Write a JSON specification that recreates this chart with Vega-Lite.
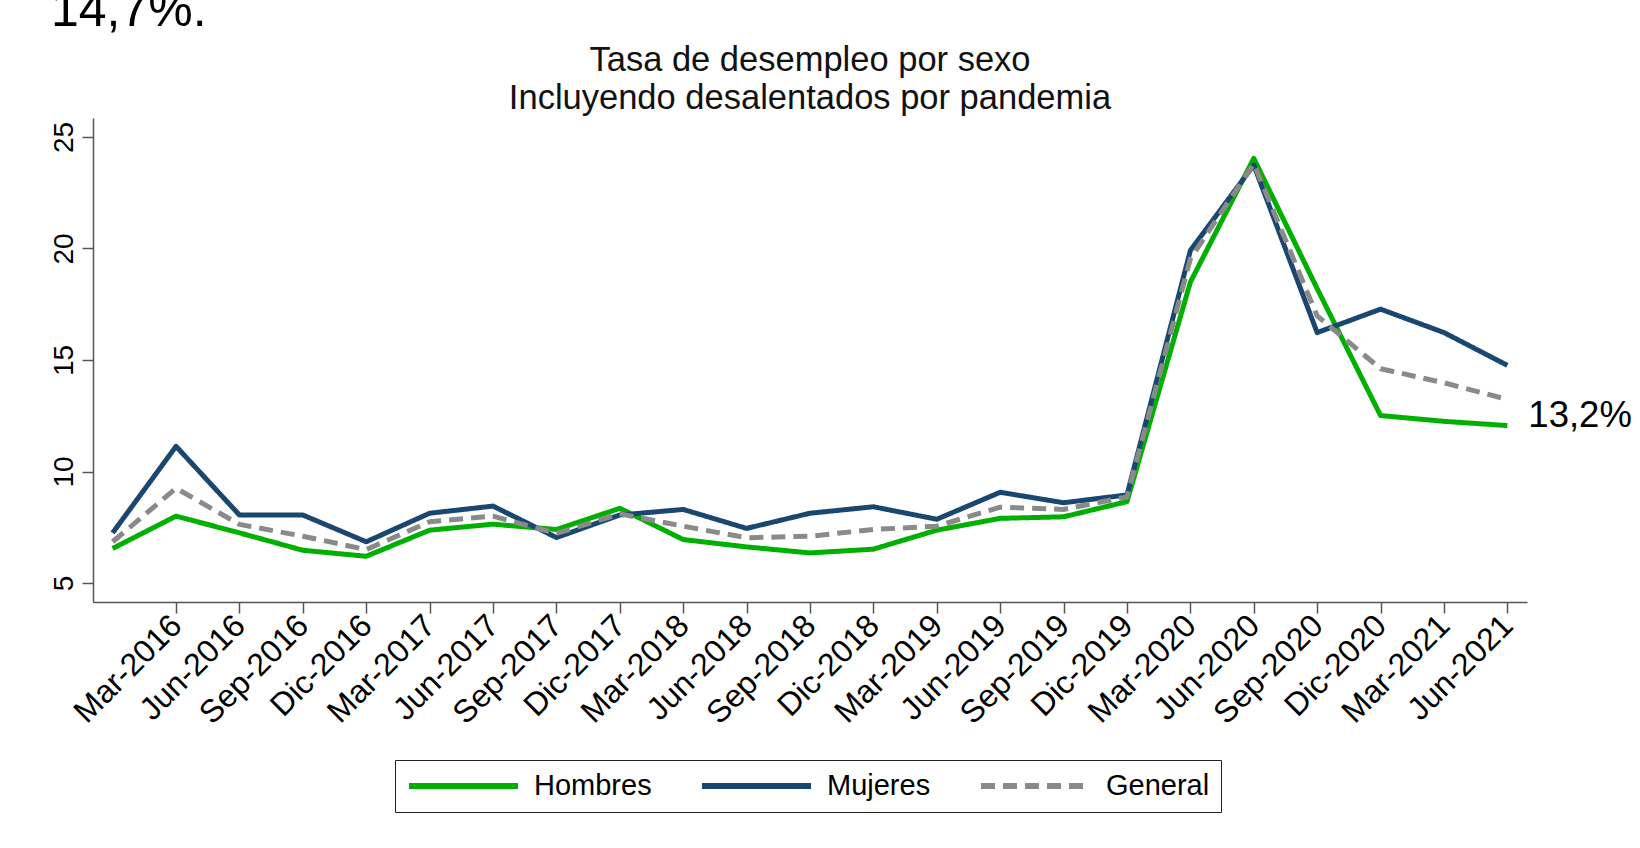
{
  "$schema": "https://vega.github.io/schema/vega-lite/v6.json",
  "autosize": {"type": "none"},
  "padding": {"left": 93, "top": 118, "right": 1547, "bottom": 730},
  "bounds": "flush",
  "background": "white",
  "title": {"text": "14,7%.", "anchor": "start", "frame": "group", "fontSize": 50, "fontWeight": "normal", "font": "Liberation Sans", "color": "#000000", "dx": -42, "offset": 7},
  "config": {
    "view": {"stroke": null},
    "font": "Liberation Sans",
    "axis": {"grid": false, "domainColor": "#555555", "domainWidth": 1.5, "tickColor": "#555555", "tickWidth": 1.5, "tickSize": 11, "labelColor": "#000000", "labelFont": "Liberation Sans", "title": null}
  },
  "datasets": {
    "series": [
      {"periodo": "Dic-2015", "serie": "Hombres", "valor": 6.55},
      {"periodo": "Mar-2016", "serie": "Hombres", "valor": 8.0},
      {"periodo": "Jun-2016", "serie": "Hombres", "valor": 7.25},
      {"periodo": "Sep-2016", "serie": "Hombres", "valor": 6.47},
      {"periodo": "Dic-2016", "serie": "Hombres", "valor": 6.2},
      {"periodo": "Mar-2017", "serie": "Hombres", "valor": 7.37},
      {"periodo": "Jun-2017", "serie": "Hombres", "valor": 7.64},
      {"periodo": "Sep-2017", "serie": "Hombres", "valor": 7.4},
      {"periodo": "Dic-2017", "serie": "Hombres", "valor": 8.35},
      {"periodo": "Mar-2018", "serie": "Hombres", "valor": 6.95},
      {"periodo": "Jun-2018", "serie": "Hombres", "valor": 6.62},
      {"periodo": "Sep-2018", "serie": "Hombres", "valor": 6.35},
      {"periodo": "Dic-2018", "serie": "Hombres", "valor": 6.52},
      {"periodo": "Mar-2019", "serie": "Hombres", "valor": 7.37},
      {"periodo": "Jun-2019", "serie": "Hombres", "valor": 7.9},
      {"periodo": "Sep-2019", "serie": "Hombres", "valor": 7.97},
      {"periodo": "Dic-2019", "serie": "Hombres", "valor": 8.65},
      {"periodo": "Mar-2020", "serie": "Hombres", "valor": 18.49},
      {"periodo": "Jun-2020", "serie": "Hombres", "valor": 24.04},
      {"periodo": "Sep-2020", "serie": "Hombres", "valor": 18.2},
      {"periodo": "Dic-2020", "serie": "Hombres", "valor": 12.51},
      {"periodo": "Mar-2021", "serie": "Hombres", "valor": 12.25},
      {"periodo": "Jun-2021", "serie": "Hombres", "valor": 12.06},
      {"periodo": "Dic-2015", "serie": "Mujeres", "valor": 7.25},
      {"periodo": "Mar-2016", "serie": "Mujeres", "valor": 11.13},
      {"periodo": "Jun-2016", "serie": "Mujeres", "valor": 8.05},
      {"periodo": "Sep-2016", "serie": "Mujeres", "valor": 8.05},
      {"periodo": "Dic-2016", "serie": "Mujeres", "valor": 6.85},
      {"periodo": "Mar-2017", "serie": "Mujeres", "valor": 8.13},
      {"periodo": "Jun-2017", "serie": "Mujeres", "valor": 8.45},
      {"periodo": "Sep-2017", "serie": "Mujeres", "valor": 7.04},
      {"periodo": "Dic-2017", "serie": "Mujeres", "valor": 8.05},
      {"periodo": "Mar-2018", "serie": "Mujeres", "valor": 8.3},
      {"periodo": "Jun-2018", "serie": "Mujeres", "valor": 7.45},
      {"periodo": "Sep-2018", "serie": "Mujeres", "valor": 8.13},
      {"periodo": "Dic-2018", "serie": "Mujeres", "valor": 8.42},
      {"periodo": "Mar-2019", "serie": "Mujeres", "valor": 7.86},
      {"periodo": "Jun-2019", "serie": "Mujeres", "valor": 9.07},
      {"periodo": "Sep-2019", "serie": "Mujeres", "valor": 8.6},
      {"periodo": "Dic-2019", "serie": "Mujeres", "valor": 8.95},
      {"periodo": "Mar-2020", "serie": "Mujeres", "valor": 19.91},
      {"periodo": "Jun-2020", "serie": "Mujeres", "valor": 23.74},
      {"periodo": "Sep-2020", "serie": "Mujeres", "valor": 16.23},
      {"periodo": "Dic-2020", "serie": "Mujeres", "valor": 17.28},
      {"periodo": "Mar-2021", "serie": "Mujeres", "valor": 16.23},
      {"periodo": "Jun-2021", "serie": "Mujeres", "valor": 14.76},
      {"periodo": "Dic-2015", "serie": "General", "valor": 6.85},
      {"periodo": "Mar-2016", "serie": "General", "valor": 9.25},
      {"periodo": "Jun-2016", "serie": "General", "valor": 7.63},
      {"periodo": "Sep-2016", "serie": "General", "valor": 7.1},
      {"periodo": "Dic-2016", "serie": "General", "valor": 6.5},
      {"periodo": "Mar-2017", "serie": "General", "valor": 7.75},
      {"periodo": "Jun-2017", "serie": "General", "valor": 8.0},
      {"periodo": "Sep-2017", "serie": "General", "valor": 7.22},
      {"periodo": "Dic-2017", "serie": "General", "valor": 8.1},
      {"periodo": "Mar-2018", "serie": "General", "valor": 7.55},
      {"periodo": "Jun-2018", "serie": "General", "valor": 7.03},
      {"periodo": "Sep-2018", "serie": "General", "valor": 7.1},
      {"periodo": "Dic-2018", "serie": "General", "valor": 7.4},
      {"periodo": "Mar-2019", "serie": "General", "valor": 7.55},
      {"periodo": "Jun-2019", "serie": "General", "valor": 8.4},
      {"periodo": "Sep-2019", "serie": "General", "valor": 8.3},
      {"periodo": "Dic-2019", "serie": "General", "valor": 8.86},
      {"periodo": "Mar-2020", "serie": "General", "valor": 19.54},
      {"periodo": "Jun-2020", "serie": "General", "valor": 23.8},
      {"periodo": "Sep-2020", "serie": "General", "valor": 16.98},
      {"periodo": "Dic-2020", "serie": "General", "valor": 14.61},
      {"periodo": "Mar-2021", "serie": "General", "valor": 13.98},
      {"periodo": "Jun-2021", "serie": "General", "valor": 13.23}
    ],
    "anotacion": [
      {"periodo": "Jun-2021", "valor": 13.23, "texto": "13,2%"}
    ]
  },
  "vconcat": [
    {
      "width": 1434,
      "height": 484,
      "title": {"text": ["Tasa de desempleo por sexo", "Incluyendo desalentados por pandemia"], "anchor": "middle", "fontSize": 34.5, "lineHeight": 38, "offset": 2, "fontWeight": "normal", "font": "Liberation Sans", "color": "#111111"},
      "encoding": {
        "x": {
          "field": "periodo", "type": "ordinal",
          "sort": ["Dic-2015", "Mar-2016", "Jun-2016", "Sep-2016", "Dic-2016", "Mar-2017", "Jun-2017", "Sep-2017", "Dic-2017", "Mar-2018", "Jun-2018", "Sep-2018", "Dic-2018", "Mar-2019", "Jun-2019", "Sep-2019", "Dic-2019", "Mar-2020", "Jun-2020", "Sep-2020", "Dic-2020", "Mar-2021", "Jun-2021"],
          "scale": {"type": "point", "padding": 0.31},
          "axis": {
            "values": ["Mar-2016", "Jun-2016", "Sep-2016", "Dic-2016", "Mar-2017", "Jun-2017", "Sep-2017", "Dic-2017", "Mar-2018", "Jun-2018", "Sep-2018", "Dic-2018", "Mar-2019", "Jun-2019", "Sep-2019", "Dic-2019", "Mar-2020", "Jun-2020", "Sep-2020", "Dic-2020", "Mar-2021", "Jun-2021"],
            "labelAngle": -45, "labelAlign": "right", "labelBaseline": "middle", "labelFontSize": 32, "labelPadding": 7, "labelOverlap": false, "labelBound": false
          }
        },
        "y": {
          "field": "valor", "type": "quantitative",
          "scale": {"domain": [4.15, 25.85], "nice": false, "zero": false},
          "axis": {"values": [5, 10, 15, 20, 25], "labelAngle": -90, "labelAlign": "center", "labelBaseline": "alphabetic", "labelFontSize": 28, "labelPadding": 10}
        }
      },
      "layer": [
        {
          "data": {"name": "series"},
          "mark": {"type": "line", "strokeWidth": 5, "strokeJoin": "round"},
          "encoding": {
            "color": {
              "field": "serie", "type": "nominal",
              "scale": {"domain": ["Hombres", "Mujeres", "General"], "range": ["#00b000", "#1a476f", "#8a8a8a"]},
              "legend": {
                "orient": "none", "legendX": 302, "legendY": 642, "direction": "horizontal", "title": null,
                "symbolType": "stroke", "symbolSize": 11881, "symbolStrokeWidth": 6, "clipHeight": 30,
                "labelFontSize": 29, "labelFont": "Liberation Sans", "labelColor": "#000000", "labelOffset": 13, "columnPadding": 47,
                "padding": 11, "strokeColor": "#222222", "fillColor": "#ffffff"
              }
            },
            "strokeDash": {
              "field": "serie", "type": "nominal",
              "scale": {"domain": ["Hombres", "Mujeres", "General"], "range": [[1, 0], [1, 0], [14, 8]]}
            }
          }
        },
        {
          "data": {"name": "anotacion"},
          "mark": {"type": "text", "align": "left", "baseline": "alphabetic", "dx": 21, "dy": 28, "fontSize": 36.5, "font": "Liberation Sans", "color": "#000000"},
          "encoding": {
            "text": {"field": "texto"}
          }
        }
      ]
    }
  ]
}
